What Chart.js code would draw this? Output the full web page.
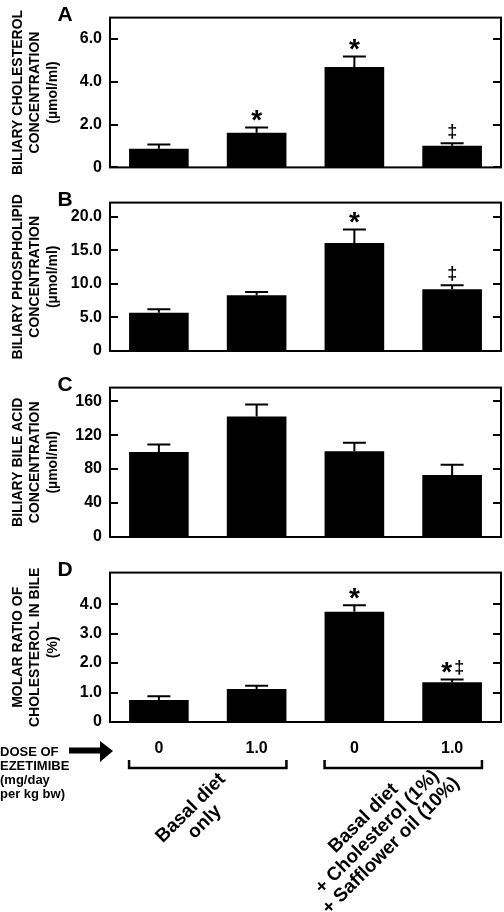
<!DOCTYPE html>
<html><head><meta charset="utf-8">
<script src="https://cdn.jsdelivr.net/npm/chart.js@4.4.1/dist/chart.umd.min.js"></script>
<style>
html,body{margin:0;padding:0;background:#fff;}
#wrap{position:relative;width:504px;height:912px;overflow:hidden;background:#fff;}
canvas{position:absolute;left:0;}
</style></head><body>
<div id="wrap">
<canvas id="cA" width="504" height="185" style="top:0px"></canvas>
<canvas id="cB" width="504" height="185" style="top:185px"></canvas>
<canvas id="cC" width="504" height="185" style="top:370px"></canvas>
<canvas id="cD" width="504" height="357" style="top:555px"></canvas>
</div>
<script>
// ---------- data ----------
const categories = ['Basal diet, 0', 'Basal diet, 1.0', 'Basal + Chol + Safflower, 0', 'Basal + Chol + Safflower, 1.0'];
const doseLabels = ['0', '1.0', '0', '1.0'];
const dietGroups = [['Basal diet', 'only'], ['Basal diet', '+ Cholesterol (1%)', '+ Safflower oil (10%)']];
const doseTitle = ['DOSE OF', 'EZETIMIBE', '(mg/day', 'per kg bw)'];

const cholesterol = [0.87, 1.62, 4.69, 1.01];
const cholesterolSem = [0.20, 0.24, 0.49, 0.12];
const cholesterolMarks = ['', '*', '*', '‡'];
const cholesterolTicks = [0, 2, 4, 6];
const cholesterolTickLabels = ['0', '2.0', '4.0', '6.0'];

const phospholipid = [5.7, 8.3, 16.1, 9.2];
const phospholipidSem = [0.5, 0.5, 2.0, 0.6];
const phospholipidMarks = ['', '', '*', '‡'];
const phospholipidTicks = [0, 5, 10, 15, 20];
const phospholipidTickLabels = ['0', '5.0', '10.0', '15.0', '20.0'];

const bileAcid = [100, 142, 101, 73];
const bileAcidSem = [9, 14, 10, 12];
const bileAcidMarks = ['', '', '', ''];
const bileAcidTicks = [0, 40, 80, 120, 160];
const bileAcidTickLabels = ['0', '40', '80', '120', '160'];

const molarRatio = [0.75, 1.12, 3.74, 1.35];
const molarRatioSem = [0.12, 0.11, 0.22, 0.09];
const molarRatioMarks = ['', '', '*', '*‡'];
const molarRatioTicks = [0, 1, 2, 3, 4];
const molarRatioTickLabels = ['0', '1.0', '2.0', '3.0', '4.0'];

// ---------- drawing ----------
const FONT = "'Liberation Sans', Arial, Helvetica, sans-serif";

function drawMarks(ctx, str, cx, cy) {
  const parts = [...str].map(ch => {
    const size = ch === '*' ? 28 : 18;
    ctx.font = `bold ${size}px ${FONT}`;
    const m = ctx.measureText(ch);
    return {ch, size, m, w: m.actualBoundingBoxLeft + m.actualBoundingBoxRight};
  });
  const gap = 3;
  const total = parts.reduce((s, p) => s + p.w, 0) + gap * (parts.length - 1);
  let x = cx - total / 2;
  parts.forEach(p => {
    ctx.font = `bold ${p.size}px ${FONT}`;
    ctx.textAlign = 'left';
    ctx.textBaseline = 'alphabetic';
    const y = cy + (p.m.actualBoundingBoxAscent - p.m.actualBoundingBoxDescent) / 2;
    ctx.fillText(p.ch, x + p.m.actualBoundingBoxLeft, y);
    x += p.w + gap;
  });
}

const panelPlugin = {
  id: 'panel',
  afterDatasetsDraw(chart, args, o) {
    const ctx = chart.ctx, a = chart.chartArea, ys = chart.scales.y;
    const meta = chart.getDatasetMeta(0);
    ctx.save();
    ctx.strokeStyle = '#000'; ctx.fillStyle = '#000';
    ctx.lineWidth = 2;
    // error bars + significance marks
    meta.data.forEach((bar, i) => {
      const v = o.values[i], e = o.sem[i];
      const yb = ys.getPixelForValue(v), yt = ys.getPixelForValue(v + e);
      ctx.beginPath();
      ctx.moveTo(bar.x, yb); ctx.lineTo(bar.x, yt);
      ctx.moveTo(bar.x - 11.5, yt); ctx.lineTo(bar.x + 11.5, yt);
      ctx.stroke();
      if (o.marks[i]) drawMarks(ctx, o.marks[i], bar.x, yt - 12);
    });
    // frame
    ctx.lineWidth = 2;
    ctx.strokeRect(a.left, a.top, a.right - a.left, a.bottom - a.top);
    // inward tick marks both sides
    ys.ticks.forEach(t => {
      const py = Math.round(ys.getPixelForValue(t.value));
      ctx.beginPath();
      ctx.moveTo(a.left, py); ctx.lineTo(a.left + 8, py);
      ctx.moveTo(a.right, py); ctx.lineTo(a.right - 8, py);
      ctx.stroke();
    });
    // panel letter
    ctx.font = `bold 21px ${FONT}`;
    ctx.textAlign = 'center'; ctx.textBaseline = 'middle';
    ctx.fillText(o.letter, 65, a.top - 2);
    // y-axis title (rotated, three lines)
    const cy = (a.top + a.bottom) / 2;
    const xs = [18, 35.5, 53];
    o.title.forEach((line, i) => {
      ctx.save();
      ctx.translate(xs[i], cy);
      ctx.rotate(-Math.PI / 2);
      ctx.font = (i < 2 ? 'bold 14px ' : 'bold 14px ') + FONT;
      ctx.textAlign = 'center'; ctx.textBaseline = 'middle';
      ctx.fillText(line, 0, 0);
      ctx.restore();
    });
    // bottom annotations (only on the last panel)
    if (o.bottom) {
      const b = a.bottom;
      ctx.font = `bold 16px ${FONT}`;
      ctx.textAlign = 'center'; ctx.textBaseline = 'middle';
      meta.data.forEach((bar, i) => ctx.fillText(doseLabels[i], bar.x, b + 27));
      // dose title
      ctx.font = `bold 13px ${FONT}`;
      ctx.textAlign = 'left';
      doseTitle.forEach((t, i) => ctx.fillText(t, 0, b + 30 + i * 14));
      // arrow
      ctx.beginPath();
      ctx.moveTo(69, b + 25.5); ctx.lineTo(100, b + 25.5); ctx.lineTo(100, b + 19);
      ctx.lineTo(113, b + 29); ctx.lineTo(100, b + 40); ctx.lineTo(100, b + 31.5);
      ctx.lineTo(69, b + 31.5); ctx.closePath(); ctx.fill();
      // brackets and diet group labels
      const groupsIdx = [[0, 1], [2, 3]];
      const labelOffsets = [[-10, 93], [-26, 110]];
      groupsIdx.forEach((g, gi) => {
        const b0 = meta.data[g[0]], b1 = meta.data[g[1]];
        const x0 = b0.x - b0.width / 2, x1 = b1.x + b1.width / 2;
        ctx.lineWidth = 2.5;
        ctx.beginPath();
        ctx.moveTo(x0, b + 38); ctx.lineTo(x0, b + 46); ctx.lineTo(x1, b + 46); ctx.lineTo(x1, b + 38);
        ctx.stroke();
        const mid = (x0 + x1) / 2;
        const lines = dietGroups[gi];
        ctx.save();
        ctx.translate(mid + labelOffsets[gi][0], b + labelOffsets[gi][1]);
        ctx.rotate(-Math.PI / 4);
        ctx.font = `bold 19px ${FONT}`;
        ctx.textAlign = 'center'; ctx.textBaseline = 'middle';
        lines.forEach((l, li) => ctx.fillText(l, 0, (li - (lines.length - 1) / 2) * 19.5));
        ctx.restore();
      });
    }
    ctx.restore();
  }
};

function makePanel(id, cfg) {
  return new Chart(document.getElementById(id), {
    type: 'bar',
    data: {
      labels: categories,
      datasets: [{data: cfg.values, backgroundColor: '#000', borderWidth: 0,
                  barPercentage: 0.61, categoryPercentage: 1}]
    },
    options: {
      responsive: false, animation: false, events: [],
      layout: {padding: {left: 0, right: 3, top: cfg.padTop, bottom: cfg.padBottom}},
      plugins: {
        legend: {display: false}, tooltip: {enabled: false},
        panel: {values: cfg.values, sem: cfg.sem, marks: cfg.marks, letter: cfg.letter,
                title: cfg.title, bottom: !!cfg.bottom}
      },
      scales: {
        x: {display: false, offset: true},
        y: {
          min: 0, max: cfg.max,
          grid: {display: false, drawTicks: false},
          border: {display: false},
          afterFit(s) { s.width = 110; },
          afterBuildTicks(s) { s.ticks = cfg.ticks.map(v => ({value: v})); },
          ticks: {padding: 8, color: '#000', font: {family: FONT, size: 16, weight: 'bold'},
                  callback: (v, i) => cfg.tickLabels[i]}
        }
      }
    },
    plugins: [panelPlugin]
  });
}

makePanel('cA', {values: cholesterol, sem: cholesterolSem, marks: cholesterolMarks,
  ticks: cholesterolTicks, tickLabels: cholesterolTickLabels, max: 7.0, letter: 'A',
  title: ['BILIARY CHOLESTEROL', 'CONCENTRATION', '(µmol/ml)'], padTop: 12, padBottom: 17});
makePanel('cB', {values: phospholipid, sem: phospholipidSem, marks: phospholipidMarks,
  ticks: phospholipidTicks, tickLabels: phospholipidTickLabels, max: 22.1, letter: 'B',
  title: ['BILIARY PHOSPHOLIPID', 'CONCENTRATION', '(µmol/ml)'], padTop: 10, padBottom: 19});
makePanel('cC', {values: bileAcid, sem: bileAcidSem, marks: bileAcidMarks,
  ticks: bileAcidTicks, tickLabels: bileAcidTickLabels, max: 176, letter: 'C',
  title: ['BILIARY BILE ACID', 'CONCENTRATION', '(µmol/ml)'], padTop: 10, padBottom: 18});
makePanel('cD', {values: molarRatio, sem: molarRatioSem, marks: molarRatioMarks,
  ticks: molarRatioTicks, tickLabels: molarRatioTickLabels, max: 5.07, letter: 'D',
  title: ['MOLAR RATIO OF', 'CHOLESTEROL IN BILE', '(%)'], padTop: 10, padBottom: 190, bottom: true});
</script>
</body></html>
